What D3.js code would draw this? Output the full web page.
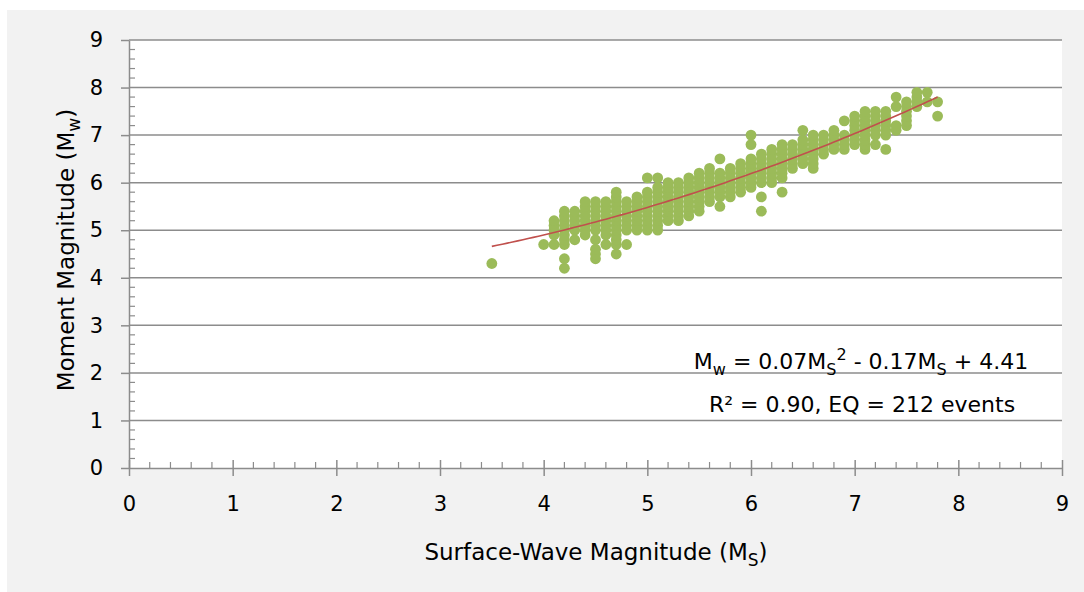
<!DOCTYPE html>
<html>
<head>
<meta charset="utf-8">
<script src="https://cdn.jsdelivr.net/npm/d3@7"></script>
<style>
  body { margin: 0; background: #fff; }
  text { font-family: "DejaVu Sans", "Noto Sans", sans-serif; fill: #000; }
</style>
</head>
<body>
<svg width="1084" height="592"></svg>
<script>
// Surface-wave magnitude (Ms) of each column of events
var msColumns = [3.5, 4.0, 4.1, 4.2, 4.3, 4.4, 4.5, 4.6, 4.7, 4.8, 4.9, 5.0, 5.1, 5.2, 5.3, 5.4, 5.5,
  5.6, 5.7, 5.8, 5.9, 6.0, 6.1, 6.2, 6.3, 6.4, 6.5, 6.6, 6.7, 6.8, 6.9, 7.0, 7.1, 7.2, 7.3,
  7.4, 7.5, 7.6, 7.7, 7.8];

// Moment magnitude (Mw) values found in each Ms column
var mwColumns = [
  [4.3],
  [4.7],
  [4.7, 4.9, 5.0, 5.1, 5.2],
  [4.2, 4.4, 4.7, 4.8, 4.9, 5.0, 5.1, 5.2, 5.3, 5.4],
  [4.8, 5.0, 5.1, 5.2, 5.3, 5.4],
  [4.9, 5.0, 5.1, 5.2, 5.3, 5.4, 5.5, 5.6],
  [4.4, 4.5, 4.6, 4.8, 5.0, 5.1, 5.2, 5.3, 5.4, 5.5, 5.6],
  [4.7, 4.9, 5.0, 5.1, 5.2, 5.3, 5.4, 5.5, 5.6],
  [4.5, 4.7, 4.8, 4.9, 5.0, 5.1, 5.2, 5.3, 5.4, 5.5, 5.6, 5.7, 5.8],
  [4.7, 5.0, 5.1, 5.2, 5.3, 5.4, 5.5, 5.6],
  [5.0, 5.1, 5.2, 5.3, 5.4, 5.5, 5.6, 5.7],
  [5.0, 5.1, 5.2, 5.3, 5.4, 5.5, 5.6, 5.7, 5.8, 6.1],
  [5.0, 5.1, 5.2, 5.3, 5.4, 5.5, 5.6, 5.7, 5.8, 5.9, 6.1],
  [5.2, 5.3, 5.4, 5.5, 5.6, 5.7, 5.8, 5.9, 6.0],
  [5.2, 5.3, 5.4, 5.5, 5.6, 5.7, 5.8, 5.9, 6.0],
  [5.3, 5.4, 5.5, 5.6, 5.7, 5.8, 5.9, 6.0, 6.1],
  [5.4, 5.5, 5.6, 5.7, 5.8, 5.9, 6.0, 6.1, 6.2],
  [5.6, 5.7, 5.8, 5.9, 6.0, 6.1, 6.2, 6.3],
  [5.5, 5.7, 5.8, 5.9, 6.0, 6.1, 6.2, 6.5],
  [5.7, 5.8, 5.9, 6.0, 6.1, 6.2, 6.3],
  [5.8, 5.9, 6.0, 6.1, 6.2, 6.3, 6.4],
  [5.9, 6.0, 6.1, 6.2, 6.3, 6.4, 6.5, 6.8, 7.0],
  [5.4, 5.7, 6.0, 6.1, 6.2, 6.3, 6.4, 6.5, 6.6],
  [6.0, 6.1, 6.2, 6.3, 6.4, 6.5, 6.6, 6.7],
  [5.8, 6.1, 6.2, 6.3, 6.4, 6.5, 6.6, 6.7, 6.8],
  [6.3, 6.4, 6.5, 6.6, 6.7, 6.8],
  [6.4, 6.5, 6.6, 6.7, 6.8, 6.9, 7.1],
  [6.3, 6.4, 6.5, 6.6, 6.7, 6.8, 6.9, 7.0],
  [6.6, 6.7, 6.8, 6.9, 7.0],
  [6.7, 6.8, 6.9, 7.0, 7.1],
  [6.7, 6.8, 6.9, 7.0, 7.3],
  [6.8, 6.9, 7.0, 7.1, 7.2, 7.3, 7.4],
  [6.7, 6.8, 6.9, 7.0, 7.1, 7.2, 7.3, 7.4, 7.5],
  [6.8, 7.0, 7.1, 7.2, 7.3, 7.4, 7.5],
  [6.7, 7.0, 7.1, 7.2, 7.3, 7.4, 7.5],
  [7.1, 7.2, 7.6, 7.8],
  [7.2, 7.3, 7.4, 7.5, 7.6, 7.7],
  [7.6, 7.7, 7.8, 7.9],
  [7.7, 7.9],
  [7.4, 7.7]
];

// Polynomial trendline as drawn (a*x^2 + b*x + c) and its x range
var trendCoef = [0.0656, -0.011, 3.895];
var trendRange = [3.5, 7.8];

var xTicks = [0, 1, 2, 3, 4, 5, 6, 7, 8, 9];
var yTicks = [0, 1, 2, 3, 4, 5, 6, 7, 8, 9];

// Layout
var PLOT_LEFT = 129;
var PLOT_RIGHT = 1062;
var PLOT_TOP = 40;
var PLOT_BOTTOM = 468;
var AXIS_COLOR = "#8c8c8c";
var DOT_COLOR = "#9bbb59";
var LINE_COLOR = "#c0504d";

var svg = d3.select("svg");

// grey chart area and white plot area
svg.append("rect")
  .attr("x", 7).attr("y", 10)
  .attr("width", 1077).attr("height", 582)
  .attr("fill", "#f2f2f2");
svg.append("rect")
  .attr("x", PLOT_LEFT).attr("y", PLOT_TOP)
  .attr("width", PLOT_RIGHT - PLOT_LEFT).attr("height", PLOT_BOTTOM - PLOT_TOP)
  .attr("fill", "#fff");

var x = d3.scaleLinear().domain([0, 9]).range([PLOT_LEFT, PLOT_RIGHT]);
var y = d3.scaleLinear().domain([0, 9]).range([PLOT_BOTTOM, PLOT_TOP]);

// horizontal gridlines
svg.append("g")
  .selectAll("line")
  .data(yTicks.filter(d => d > 0))
  .enter().append("line")
  .attr("x1", PLOT_LEFT).attr("x2", PLOT_RIGHT)
  .attr("y1", d => y(d)).attr("y2", d => y(d))
  .attr("stroke", AXIS_COLOR)
  .attr("stroke-width", 1.5);

// minor ticks every 0.2
var minor = d3.range(0, 45).map(i => i / 5).filter(v => v % 1 !== 0);

var yMinor = svg.append("g");
yMinor.selectAll("line")
  .data(minor)
  .enter().append("line")
  .attr("x1", PLOT_LEFT).attr("x2", PLOT_LEFT + 6)
  .attr("y1", d => y(d)).attr("y2", d => y(d))
  .attr("stroke", AXIS_COLOR).attr("stroke-width", 1.2);

var xMinor = svg.append("g");
xMinor.selectAll("line")
  .data(minor)
  .enter().append("line")
  .attr("x1", d => x(d)).attr("x2", d => x(d))
  .attr("y1", PLOT_BOTTOM).attr("y2", PLOT_BOTTOM - 6)
  .attr("stroke", AXIS_COLOR).attr("stroke-width", 1.2);

// y axis
var yAxis = svg.append("g")
  .attr("transform", "translate(" + PLOT_LEFT + ",0)")
  .call(d3.axisLeft(y).tickValues(yTicks).tickSize(8).tickSizeOuter(0).tickPadding(18)
    .tickFormat(d3.format("d")));
yAxis.select(".domain").attr("stroke", AXIS_COLOR).attr("stroke-width", 1.5);
yAxis.selectAll(".tick line").attr("stroke", AXIS_COLOR).attr("stroke-width", 1.5);
yAxis.selectAll(".tick text").style("font-size", "21px").attr("fill", "#000");

// x axis, major ticks cross the axis line
var xAxis = svg.append("g")
  .attr("transform", "translate(0," + PLOT_BOTTOM + ")")
  .call(d3.axisBottom(x).tickValues(xTicks).tickSize(8).tickSizeOuter(0).tickPadding(20)
    .tickFormat(d3.format("d")));
xAxis.select(".domain").attr("stroke", AXIS_COLOR).attr("stroke-width", 1.5);
xAxis.selectAll(".tick line").attr("y1", -8).attr("stroke", AXIS_COLOR).attr("stroke-width", 1.5);
xAxis.selectAll(".tick text").style("font-size", "21px").attr("fill", "#000");

// scatter points
var points = [];
msColumns.forEach((ms, i) => {
  mwColumns[i].forEach(mw => points.push({ ms: ms, mw: mw }));
});

svg.append("g")
  .selectAll("circle")
  .data(points)
  .enter().append("circle")
  .attr("cx", d => x(d.ms))
  .attr("cy", d => y(d.mw))
  .attr("r", 5.4)
  .attr("fill", DOT_COLOR);

// trendline
var trendX = d3.range(trendRange[0], trendRange[1] + 0.001, 0.05);
var trend = d3.line()
  .x(d => x(d))
  .y(d => y(trendCoef[0] * d * d + trendCoef[1] * d + trendCoef[2]));
svg.append("path")
  .datum(trendX)
  .attr("d", trend)
  .attr("fill", "none")
  .attr("stroke", LINE_COLOR)
  .attr("stroke-width", 1.6);

// equation label
var eq = svg.append("text")
  .attr("x", 861).attr("y", 369)
  .attr("text-anchor", "middle")
  .style("font-size", "22px");
eq.append("tspan").text("M");
eq.append("tspan").attr("dy", 6).style("font-size", "16px").text("w");
eq.append("tspan").attr("dy", -6).text(" = 0.07M");
eq.append("tspan").attr("dy", 6).style("font-size", "16px").text("S");
eq.append("tspan").attr("dy", -15).style("font-size", "16px").text("2");
eq.append("tspan").attr("dy", 9).text(" - 0.17M");
eq.append("tspan").attr("dy", 6).style("font-size", "16px").text("S");
eq.append("tspan").attr("dy", -6).text(" + 4.41");

svg.append("text")
  .attr("x", 862).attr("y", 412)
  .attr("text-anchor", "middle")
  .style("font-size", "22px")
  .text("R² = 0.90, EQ = 212 events");

// axis titles
var xt = svg.append("text")
  .attr("x", 596).attr("y", 560)
  .attr("text-anchor", "middle")
  .style("font-size", "23px");
xt.append("tspan").text("Surface-Wave Magnitude (M");
xt.append("tspan").attr("dy", 6).style("font-size", "17px").text("S");
xt.append("tspan").attr("dy", -6).text(")");

var yt = svg.append("text")
  .attr("transform", "translate(74,250) rotate(-90)")
  .attr("text-anchor", "middle")
  .style("font-size", "23px");
yt.append("tspan").text("Moment Magnitude (M");
yt.append("tspan").attr("dy", 6).style("font-size", "17px").text("w");
yt.append("tspan").attr("dy", -6).text(")");
</script>
</body>
</html>
